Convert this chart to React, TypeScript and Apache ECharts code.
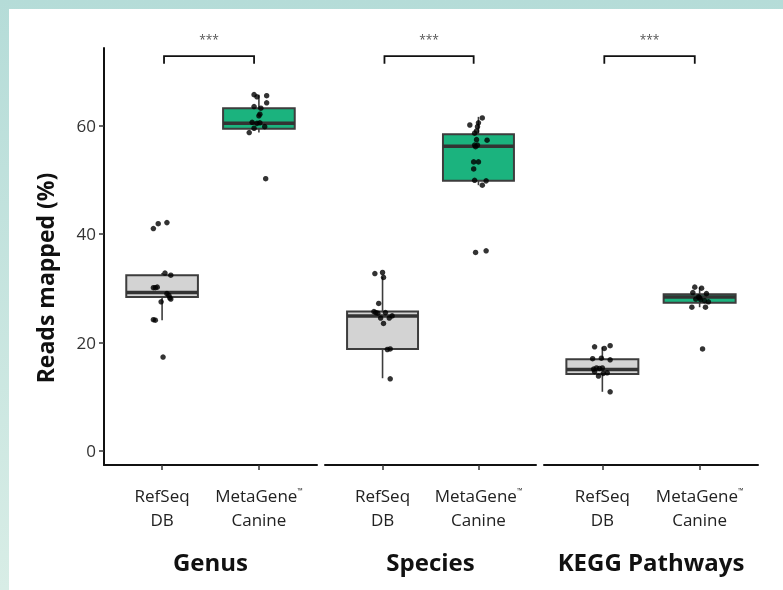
import React, { useEffect, useRef } from 'react';
import * as echarts from 'echarts';

// ---------- data ----------
const panels = ['Genus', 'Species', 'KEGG Pathways'];
const groupTop = ['RefSeq', 'MetaGene™'];
const groupBottom = ['DB', 'Canine'];
const yTicks = [0, 20, 40, 60];
const yTitle = 'Reads mapped (%)';
const signif = ['***', '***', '***'];

// box stats: [min, q1, median, q3, max]
const genusRefSeqBox = [24.1, 28.4, 29.2, 32.4, 32.8];
const genusMetaBox = [58.7, 59.4, 60.4, 63.2, 65.7];
const speciesRefSeqBox = [13.4, 18.8, 24.9, 25.7, 32.1];
const speciesMetaBox = [49.0, 49.8, 56.2, 58.4, 61.6];
const keggRefSeqBox = [10.9, 14.2, 15.0, 16.9, 19.2];
const keggMetaBox = [26.5, 27.3, 28.4, 28.9, 30.2];

// jittered samples: [horizontal jitter, reads mapped %]
const genusRefSeqPts = [
  [-0.09, 41.0], [-0.04, 41.9], [0.05, 42.1], [0.03, 32.8], [0.09, 32.4],
  [-0.09, 30.1], [-0.07, 30.1], [-0.05, 30.2], [0.05, 29.0], [0.07, 28.7],
  [0.08, 28.2], [0.09, 28.0], [-0.01, 27.5], [-0.09, 24.2], [-0.07, 24.1], [0.01, 17.3],
];
const genusMetaPts = [
  [-0.05, 65.7], [-0.02, 65.3], [0.08, 65.5], [0.08, 64.2], [-0.05, 63.5],
  [0.02, 63.2], [0.01, 62.1], [0.0, 61.8], [-0.07, 60.6], [-0.02, 60.4],
  [0.01, 60.5], [0.06, 59.8], [-0.05, 59.5], [-0.1, 58.7], [0.07, 50.2],
];
const speciesRefSeqPts = [
  [-0.08, 32.7], [0.0, 32.9], [0.01, 32.0], [-0.04, 27.2], [-0.09, 25.7],
  [-0.07, 25.5], [-0.05, 25.4], [0.03, 25.5], [-0.02, 24.5], [0.07, 24.5],
  [0.1, 24.9], [0.01, 23.5], [0.05, 18.7], [0.08, 18.8], [0.08, 13.3],
];
const speciesMetaPts = [
  [0.04, 61.4], [0.0, 60.5], [-0.09, 60.1], [-0.01, 59.8], [-0.02, 59.0],
  [-0.04, 58.6], [-0.02, 57.4], [0.09, 57.3], [-0.04, 56.4], [-0.01, 56.4],
  [-0.03, 56.1], [-0.05, 53.3], [0.0, 53.3], [-0.05, 52.0], [-0.04, 49.9],
  [0.08, 49.8], [0.04, 49.0], [-0.03, 36.6], [0.08, 36.9],
];
const keggRefSeqPts = [
  [-0.08, 19.2], [0.08, 19.4], [0.02, 18.9], [-0.1, 17.0], [-0.01, 17.1],
  [0.08, 16.8], [-0.09, 15.1], [-0.06, 15.3], [-0.03, 15.2], [0.0, 15.3],
  [-0.08, 14.6], [-0.04, 13.8], [0.01, 14.3], [0.05, 14.4], [0.08, 10.9],
];
const keggMetaPts = [
  [-0.05, 30.2], [0.02, 30.0], [-0.07, 29.2], [0.07, 29.0], [-0.01, 28.4],
  [-0.04, 28.0], [0.01, 27.9], [0.05, 27.7], [0.09, 27.5], [-0.08, 26.5],
  [0.06, 26.5], [0.0, 28.2], [0.03, 18.8],
];

// significance brackets: [from, to, height]
const bracketSpan = [1.02, 1.95, 72.8];

const boxes = [
  [genusRefSeqBox, genusMetaBox],
  [speciesRefSeqBox, speciesMetaBox],
  [keggRefSeqBox, keggMetaBox],
];
const points = [
  [genusRefSeqPts, genusMetaPts],
  [speciesRefSeqPts, speciesMetaPts],
  [keggRefSeqPts, keggMetaPts],
];

// ---------- styling ----------
const FONT = '"Open Sans", "Noto Sans", sans-serif';
const boxFills = ['#d3d3d3', '#1bb37e'];
const BOX_W = 0.74;
const Y_MIN = -2.6;
const Y_MAX = 74.3;
const gridPos = [
  { left: 104, width: 213 },
  { left: 325, width: 211 },
  { left: 544, width: 214 },
];

export default function App() {
  const ref = useRef<HTMLDivElement>(null);

  useEffect(() => {
    if (!ref.current) return;
    const chart = echarts.init(ref.current, undefined, { renderer: 'svg' });

    const grid = gridPos.map((g) => ({ left: g.left, width: g.width, top: 48, height: 417 }));

    const labelFormatter = (v: number) => {
      const i = Math.round(v) - 1;
      const top = groupTop[i] || '';
      const bottom = groupBottom[i] || '';
      const parts = top.split('™');
      const topRich = parts.length > 1 ? `{a|${parts[0]}}{tm|™}` : `{a|${top}}`;
      return `${topRich}\n{a|${bottom}}`;
    };

    const xAxis = panels.map((name, i) => ({
      gridIndex: i,
      type: 'value',
      min: 0.4,
      max: 2.6,
      axisLine: { show: true, onZero: false, lineStyle: { color: '#111', width: 2 } },
      axisTick: { show: true, customValues: [1, 2], length: 5, lineStyle: { color: '#333', width: 1.5 } },
      axisLabel: {
        show: true,
        customValues: [1, 2],
        formatter: labelFormatter,
        margin: 18,
        color: '#222',
        rich: {
          a: { fontFamily: FONT, fontSize: 17, color: '#222', lineHeight: 24 },
          tm: { fontFamily: FONT, fontSize: 7, color: '#222', padding: [0, 0, 10, 0] },
        },
      },
      splitLine: { show: false },
      name,
      nameLocation: 'middle',
      nameGap: 84,
      nameTextStyle: { fontFamily: FONT, fontSize: 24, fontWeight: 'bold', color: '#111' },
    }));

    const yAxis = panels.map((_, i) => ({
      gridIndex: i,
      type: 'value',
      min: Y_MIN,
      max: Y_MAX,
      show: i === 0,
      axisLine: { show: true, onZero: false, lineStyle: { color: '#111', width: 2 } },
      axisTick: { show: true, customValues: yTicks, length: 5, lineStyle: { color: '#333', width: 1.5 } },
      axisLabel: {
        show: true,
        customValues: yTicks,
        margin: 8,
        fontFamily: FONT,
        fontSize: 17,
        color: '#333',
      },
      splitLine: { show: false },
    }));

    const series: any[] = [];
    panels.forEach((_, i) => {
      series.push({
        type: 'custom',
        xAxisIndex: i,
        yAxisIndex: i,
        z: 2,
        data: boxes[i].map((b, k) => [k + 1, ...b, k]),
        renderItem: (params: any, api: any) => {
          const x = api.value(0);
          const lo = api.coord([x, api.value(1)]);
          const q1 = api.coord([x, api.value(2)]);
          const md = api.coord([x, api.value(3)]);
          const q3 = api.coord([x, api.value(4)]);
          const hi = api.coord([x, api.value(5)]);
          const w = api.size([BOX_W, 0])[0];
          const fill = boxFills[api.value(6)];
          const cx = q1[0];
          const stroke = '#3d3d3d';
          return {
            type: 'group',
            children: [
              { type: 'line', shape: { x1: cx, y1: lo[1], x2: cx, y2: q1[1] }, style: { stroke, lineWidth: 1.6 } },
              { type: 'line', shape: { x1: cx, y1: q3[1], x2: cx, y2: hi[1] }, style: { stroke, lineWidth: 1.6 } },
              {
                type: 'rect',
                shape: { x: cx - w / 2, y: q3[1], width: w, height: q1[1] - q3[1] },
                style: { fill, stroke, lineWidth: 2 },
              },
              { type: 'line', shape: { x1: cx - w / 2, y1: md[1], x2: cx + w / 2, y2: md[1] }, style: { stroke: '#333', lineWidth: 3.5 } },
            ],
          };
        },
      });
      series.push({
        type: 'scatter',
        xAxisIndex: i,
        yAxisIndex: i,
        z: 5,
        symbolSize: 5.5,
        itemStyle: { color: '#000' },
        data: points[i].flatMap((pts, k) => pts.map((p) => [k + 1 + p[0], p[1]])),
      });
      series.push({
        type: 'custom',
        xAxisIndex: i,
        yAxisIndex: i,
        clip: false,
        z: 3,
        data: [[...bracketSpan, i]],
        renderItem: (params: any, api: any) => {
          const a = api.coord([api.value(0), api.value(2)]);
          const b = api.coord([api.value(1), api.value(2)]);
          const leg = api.size([0, 1.4])[1];
          const t = api.coord([(api.value(0) + api.value(1)) / 2, api.value(2) + 3]);
          return {
            type: 'group',
            children: [
              {
                type: 'polyline',
                shape: { points: [[a[0], a[1] + leg], [a[0], a[1]], [b[0], b[1]], [b[0], b[1] + leg]] },
                style: { stroke: '#111', lineWidth: 1.8, fill: 'none' },
              },
              {
                type: 'text',
                x: t[0],
                y: t[1],
                style: {
                  text: signif[api.value(3)],
                  fontFamily: FONT,
                  fontSize: 12,
                  fill: '#555',
                  align: 'center',
                  verticalAlign: 'middle',
                },
              },
            ],
          };
        },
      });
    });

    chart.setOption({
      animation: false,
      backgroundColor: 'transparent',
      graphic: [
        {
          type: 'rect',
          z: -10,
          shape: { x: 0, y: 0, width: 783, height: 590 },
          style: {
            fill: new echarts.graphic.LinearGradient(0, 0, 0, 1, [
              { offset: 0, color: '#b5dcd8' },
              { offset: 1, color: '#d8ede6' },
            ]),
          },
        },
        { type: 'rect', z: -9, shape: { x: 9, y: 9, width: 774, height: 581 }, style: { fill: '#ffffff' } },
        {
          type: 'text',
          x: 45,
          y: 278,
          rotation: Math.PI / 2,
          style: {
            text: yTitle,
            fontFamily: FONT,
            fontSize: 23,
            fontWeight: 'bold',
            fill: '#111',
            align: 'center',
            verticalAlign: 'middle',
          },
        },
      ],
      grid,
      xAxis,
      yAxis,
      series,
    });

    return () => chart.dispose();
  }, []);

  return (
    <div
      ref={ref}
      style={{ position: 'fixed', left: 0, top: 0, width: 783, height: 590 }}
    />
  );
}
